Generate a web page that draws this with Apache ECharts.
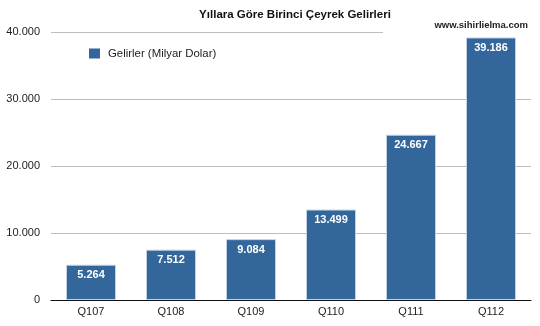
<!DOCTYPE html>
<html>
<head>
<meta charset="utf-8">
<script src="https://cdn.jsdelivr.net/npm/echarts@6/dist/echarts.min.js"></script>
<style>
  html, body { margin: 0; padding: 0; background: #fff; }
  #chart { width: 540px; height: 326px; }
</style>
</head>
<body>
<div id="chart"></div>
<script>
// Quarterly revenue (billion USD), first quarter of each year
const quarters = ['Q107', 'Q108', 'Q109', 'Q110', 'Q111', 'Q112'];
const revenue = [5.264, 7.512, 9.084, 13.499, 24.667, 39.186];
const seriesName = 'Gelirler (Milyar Dolar)';
const titleText = 'Yıllara Göre Birinci Çeyrek Gelirleri';
const siteText = 'www.sihirlielma.com';

const FONT = '"Liberation Sans", Arial, Helvetica, sans-serif';

function fmt(v) {
  return v === 0 ? '0' : v.toFixed(3);
}

const chart = echarts.init(document.getElementById('chart'), null, { renderer: 'canvas' });

chart.setOption({
  animation: false,
  backgroundColor: '#fff',
  textStyle: { fontFamily: FONT },
  title: {
    text: titleText,
    left: 290,
    textAlign: 'center',
    top: 4,
    textStyle: { fontFamily: FONT, fontSize: 11.5, fontWeight: 'bold', color: '#111' }
  },
  legend: {
    left: 89,
    top: 48,
    padding: 0,
    itemWidth: 11,
    itemHeight: 10,
    itemGap: 10,
    icon: 'rect',
    itemStyle: { borderWidth: 0 },
    textStyle: { fontFamily: FONT, fontSize: 11.4, color: '#222', padding: [0, 0, 0, 3] },
    data: [seriesName]
  },
  grid: { left: 51, right: 9, top: 32, bottom: 26, containLabel: false },
  xAxis: {
    type: 'category',
    data: quarters,
    axisLine: { show: true, lineStyle: { color: '#111', width: 1 } },
    axisTick: { show: false },
    axisLabel: { fontFamily: FONT, fontSize: 11, color: '#222', margin: 6 }
  },
  yAxis: {
    type: 'value',
    min: 0,
    max: 40,
    interval: 10,
    axisLine: { show: false },
    axisTick: { show: false },
    splitLine: { show: true, lineStyle: { color: '#bdbdbd', width: 1 } },
    axisLabel: {
      fontFamily: FONT, fontSize: 11, color: '#222', margin: 11,
      formatter: fmt
    }
  },
  graphic: [
    {
      type: 'rect',
      shape: { x: 383, y: 29, width: 155, height: 6 },
      style: { fill: '#fff' },
      z: 5
    },
    {
      type: 'text',
      right: 12,
      top: 20,
      style: {
        text: siteText,
        font: 'bold 9.5px ' + FONT,
        fill: '#222'
      },
      z: 6
    }
  ],
  series: [{
    name: seriesName,
    type: 'bar',
    data: revenue,
    barWidth: 50,
    itemStyle: { color: '#33669b', borderColor: '#c3d3e6', borderWidth: 1 },
    label: {
      show: true,
      position: 'insideTop',
      distance: 5,
      color: '#fff',
      fontFamily: FONT,
      fontSize: 11,
      fontWeight: 'bold',
      formatter: p => fmt(p.value)
    },
    z: 3
  }]
});
</script>
</body>
</html>
